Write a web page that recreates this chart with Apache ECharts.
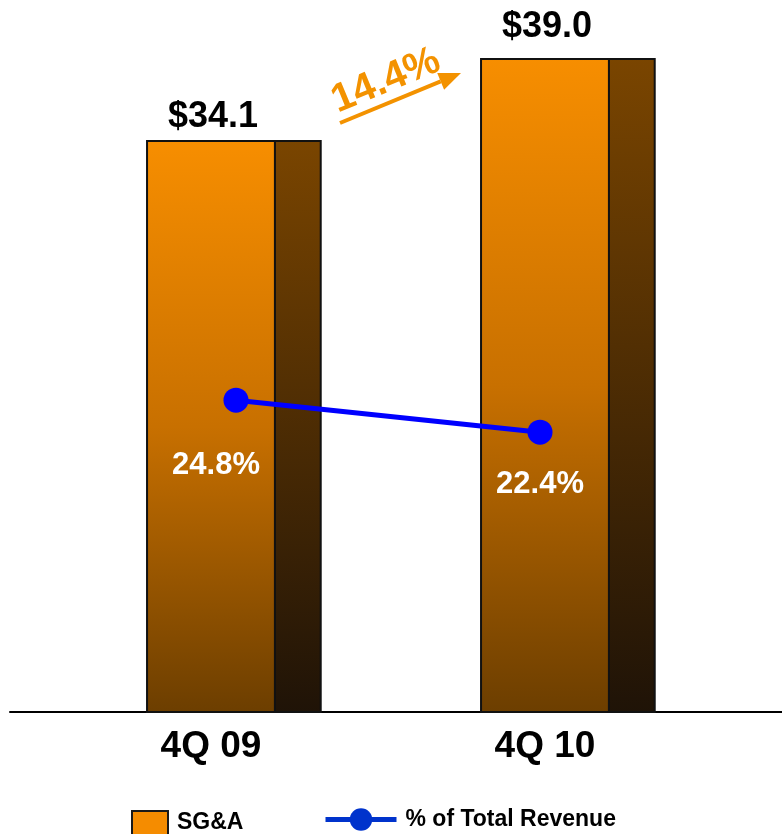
<!DOCTYPE html>
<html>
<head>
<meta charset="utf-8">
<script src="https://cdn.jsdelivr.net/npm/echarts@6/dist/echarts.min.js"></script>
<style>
html,body{margin:0;padding:0;background:#fff;}
#chart{width:782px;height:834px;}
</style>
</head>
<body>
<div id="chart"></div>
<script>
// ---- data ----
const categories = ['4Q 09', '4Q 10'];
const sgaValues = [34.1, 39.0];
const sgaLabels = ['$34.1', '$39.0'];
const pctValues = [24.8, 22.4];
const pctLabels = ['24.8%', '22.4%'];
const growthLabel = '14.4%';
const seriesNames = ['SG&A', '% of Total Revenue'];

// ---- layout / style ----
const FONT = '"Liberation Sans", Arial, sans-serif';
const GRID_TOP = 59, GRID_BOTTOM = 122;
const barLabelLift = [6, 14];
const pctLabelOffsets = [[-20, 65], [0, 52]];

const chart = echarts.init(document.getElementById('chart'), null, {renderer: 'canvas'});

function frontFill() {
  return new echarts.graphic.LinearGradient(0, 0, 0, 1, [
    {offset: 0, color: '#F78E00'},
    {offset: 0.5, color: '#C87000'},
    {offset: 1, color: '#6C3E00'}
  ]);
}
function sideFill() {
  return new echarts.graphic.LinearGradient(0, 0, 0, 1, [
    {offset: 0, color: '#7A4500'},
    {offset: 1, color: '#1F1307'}
  ]);
}

// arrow geometry for the growth annotation
const arrowTail = [340, 123], arrowTip = [461, 73];
const adx = arrowTip[0] - arrowTail[0], ady = arrowTip[1] - arrowTail[1];
const alen = Math.sqrt(adx * adx + ady * ady);
const ux = adx / alen, uy = ady / alen;
const headLen = 22, headHalf = 9;
const hb = [arrowTip[0] - ux * headLen, arrowTip[1] - uy * headLen];
const arrowAngle = Math.atan2(-ady, adx);

const option = {
  animation: false,
  backgroundColor: '#fff',
  textStyle: {fontFamily: FONT},
  grid: [
    {left: 44, right: 70, top: GRID_TOP, bottom: GRID_BOTTOM},
    {left: 84, right: 90, top: GRID_TOP, bottom: GRID_BOTTOM},
    {left: 10, right: 0, top: GRID_TOP, bottom: GRID_BOTTOM}
  ],
  xAxis: [
    {
      gridIndex: 0, type: 'category', data: categories,
      axisLine: {show: false}, axisTick: {show: false},
      axisLabel: {fontSize: 37, fontWeight: 'bold', color: '#000', margin: 16, fontFamily: FONT}
    },
    {gridIndex: 1, type: 'category', data: categories, show: false},
    {
      gridIndex: 2, type: 'category', data: [''],
      axisLine: {show: true, lineStyle: {color: '#000', width: 2}},
      axisTick: {show: false}, axisLabel: {show: false}
    }
  ],
  yAxis: [
    {gridIndex: 0, type: 'value', min: 0, max: 39, show: false},
    {gridIndex: 1, type: 'value', min: 1.4, max: 50.4, show: false},
    {gridIndex: 2, type: 'value', min: 0, max: 1, show: false}
  ],
  legend: [
    {
      data: [{name: seriesNames[0], icon: 'rect',
        itemStyle: {color: '#F58C00', borderColor: '#1a1a1a', borderWidth: 2}}],
      left: 131, top: 810, itemWidth: 36, itemHeight: 24, padding: 0,
      selectedMode: false,
      textStyle: {fontSize: 23, fontWeight: 'bold', color: '#000', fontFamily: FONT, padding: [0, 0, 0, 4]}
    },
    {
      data: [{name: seriesNames[1],
        itemStyle: {color: '#0033CC'}, lineStyle: {color: '#0033CC', width: 5}}],
      left: 323, top: 808, itemWidth: 71, itemHeight: 28, padding: 0,
      selectedMode: false,
      textStyle: {fontSize: 23, fontWeight: 'bold', color: '#000', fontFamily: FONT, padding: [0, 0, 0, 4]}
    }
  ],
  series: [
    {
      name: seriesNames[0],
      type: 'custom',
      xAxisIndex: 0, yAxisIndex: 0,
      itemStyle: {color: '#F58C00'},
      data: sgaValues.map((v, i) => [i, v]),
      encode: {x: 0, y: 1},
      renderItem: function (params, api) {
        const idx = api.value(0);
        const v = api.value(1);
        const top = api.coord([idx, v]);
        const base = api.coord([idx, 0]);
        const band = api.size([1, 0])[0];
        const fw = band * 0.383, sw = band * 0.137;
        const x0 = top[0] - fw / 2;
        const h = base[1] - top[1];
        return {
          type: 'group',
          children: [
            {type: 'rect', shape: {x: x0, y: top[1], width: fw, height: h},
              style: {fill: frontFill(), stroke: '#111', lineWidth: 2}},
            {type: 'rect', shape: {x: x0 + fw, y: top[1], width: sw, height: h},
              style: {fill: sideFill(), stroke: '#111', lineWidth: 2}},
            {type: 'text', style: {
              text: sgaLabels[idx], x: top[0] + 2, y: top[1] - barLabelLift[idx],
              align: 'center', verticalAlign: 'bottom',
              font: 'bold 36px ' + FONT, fill: '#000'}}
          ]
        };
      }
    },
    {
      name: seriesNames[1],
      type: 'line',
      xAxisIndex: 1, yAxisIndex: 1,
      symbol: 'circle', symbolSize: 25,
      lineStyle: {color: '#0000FF', width: 5},
      itemStyle: {color: '#0000FF'},
      z: 5,
      data: pctValues.map((v, i) => ({
        value: v,
        label: {offset: pctLabelOffsets[i]}
      })),
      label: {
        show: true, position: 'inside',
        formatter: p => pctLabels[p.dataIndex],
        fontSize: 31, fontWeight: 'bold', color: '#fff', fontFamily: FONT
      }
    },
    {
      type: 'line', xAxisIndex: 2, yAxisIndex: 2, data: [], silent: true
    }
  ],
  graphic: [
    {type: 'line', shape: {x1: arrowTail[0], y1: arrowTail[1], x2: hb[0], y2: hb[1]},
      style: {stroke: '#F39200', lineWidth: 4}},
    {type: 'polygon', shape: {points: [
      arrowTip,
      [hb[0] + (-uy) * headHalf, hb[1] + ux * headHalf],
      [hb[0] - (-uy) * headHalf, hb[1] - ux * headHalf]
    ]}, style: {fill: '#F39200'}},
    {type: 'text', x: 386, y: 81, rotation: arrowAngle,
      style: {text: growthLabel, font: 'bold 40px ' + FONT, fill: '#F39200',
        align: 'center', verticalAlign: 'middle'}}
  ]
};

chart.setOption(option);
</script>
</body>
</html>
